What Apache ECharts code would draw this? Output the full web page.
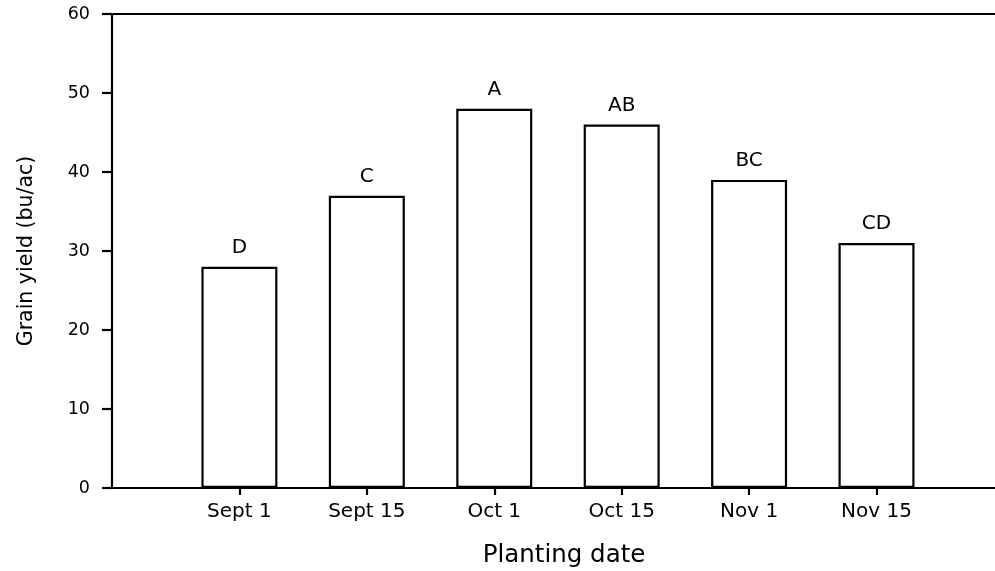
<!DOCTYPE html>
<html>
<head>
<meta charset="utf-8">
<script src="https://cdn.jsdelivr.net/npm/echarts@6/dist/echarts.min.js"></script>
<style>
  html, body { margin: 0; padding: 0; background: #fff; }
  #chart { width: 995px; height: 571px; }
</style>
</head>
<body>
<div id="chart"></div>
<script>
// Planting dates and mean grain yield, with mean-separation letters
const categories = ['Sept 1', 'Sept 15', 'Oct 1', 'Oct 15', 'Nov 1', 'Nov 15'];
const yieldValues = [28, 37, 48, 46, 39, 31];
const letters = ['D', 'C', 'A', 'AB', 'BC', 'CD'];
const yTicks = [0, 10, 20, 30, 40, 50, 60];

const positions = categories.map((_, i) => i + 1);
const barData = positions.map((p, i) => [p, yieldValues[i]]);

const FONT = 'DejaVu Sans';
const INK = '#000';
const LINE_W = 2.2;

const chart = echarts.init(document.getElementById('chart'), null, { renderer: 'canvas' });

chart.setOption({
  animation: false,
  backgroundColor: '#fff',
  grid: {
    left: 112, right: 0, top: 14, bottom: 83,
    containLabel: false,
    outerBoundsMode: 'none'
  },
  xAxis: [
    {
      type: 'value',
      position: 'bottom',
      min: 0,
      max: 6.93,
      splitLine: { show: false },
      axisLine: { show: true, onZero: false, lineStyle: { color: INK, width: LINE_W } },
      axisTick: {
        show: true, inside: false, length: 7,
        customValues: positions,
        lineStyle: { color: INK, width: LINE_W }
      },
      axisLabel: {
        show: true,
        customValues: positions,
        margin: 14,
        fontFamily: FONT,
        fontSize: 20,
        color: INK,
        formatter: v => categories[Math.round(v) - 1] || ''
      },
      name: 'Planting date',
      nameLocation: 'middle',
      nameGap: 55,
      nameTextStyle: {
        fontFamily: FONT, fontSize: 24.5, color: INK,
        padding: [0, 0, 0, 21]
      }
    },
    {
      type: 'value',
      position: 'top',
      min: 0,
      max: 6.93,
      splitLine: { show: false },
      axisLine: { show: true, onZero: false, lineStyle: { color: INK, width: LINE_W } },
      axisTick: { show: false },
      axisLabel: { show: false }
    }
  ],
  yAxis: {
    type: 'value',
    min: yTicks[0],
    max: yTicks[yTicks.length - 1],
    interval: 10,
    splitLine: { show: false },
    axisLine: { show: true, onZero: false, lineStyle: { color: INK, width: LINE_W } },
    axisTick: { show: true, inside: false, length: 10, lineStyle: { color: INK, width: LINE_W } },
    axisLabel: {
      margin: 22,
      fontFamily: FONT,
      fontSize: 17.5,
      color: INK
    },
    name: 'Grain yield (bu/ac)',
    nameLocation: 'middle',
    nameGap: 75,
    nameRotate: 90,
    nameTextStyle: { fontFamily: FONT, fontSize: 20.5, color: INK }
  },
  series: [
    {
      type: 'bar',
      xAxisIndex: 0,
      data: barData,
      barWidth: 76,
      itemStyle: { color: '#fff', borderColor: INK, borderWidth: LINE_W },
      label: {
        show: true,
        position: 'top',
        distance: 9,
        fontFamily: FONT,
        fontSize: 20,
        color: INK,
        formatter: p => letters[p.dataIndex]
      },
      emphasis: { disabled: true }
    }
  ]
});
</script>
</body>
</html>
